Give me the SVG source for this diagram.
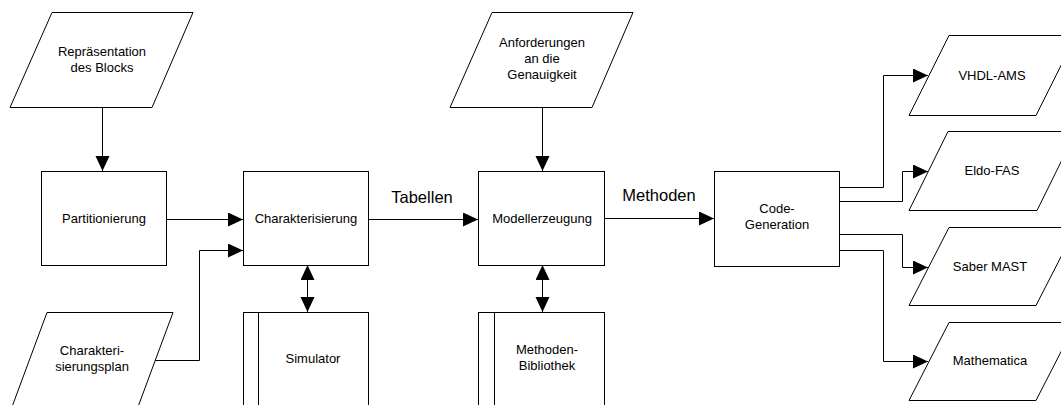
<svg xmlns="http://www.w3.org/2000/svg" width="1061" height="405" viewBox="0 0 1061 405">
  <style>
    .shape { fill: #ffffff; stroke: #000000; stroke-width: 1; }
    .wire { fill: none; stroke: #000000; stroke-width: 1; }
    .txt { font-family: "Liberation Sans", Arial, sans-serif; font-size: 13px; fill: #000000; text-anchor: middle; }
    .lbl { font-family: "Liberation Sans", Arial, sans-serif; font-size: 16.5px; fill: #000000; text-anchor: middle; }
  </style>
  <defs>
    <marker id="arrow" markerUnits="userSpaceOnUse" markerWidth="16" markerHeight="15" refX="15" refY="7" orient="auto-start-reverse">
      <path d="M0,0 L15,7 L0,14 z" fill="#000000"/>
    </marker>
  </defs>
  <rect width="1061" height="405" fill="#ffffff"/>

  <!-- connectors -->
  <g id="connectors">
    <path class="wire" d="M102.5,107 V171" marker-end="url(#arrow)"/>
    <path class="wire" d="M166,219.5 H243" marker-end="url(#arrow)"/>
    <path class="wire" d="M155,360.5 H199.5 V250.5 H243" marker-end="url(#arrow)"/>
    <path class="wire" d="M368,219.5 H478" marker-end="url(#arrow)"/>
    <path class="wire" d="M542.5,107 V171" marker-end="url(#arrow)"/>
    <path class="wire" d="M604,218.5 H714" marker-end="url(#arrow)"/>
    <path class="wire" d="M307.5,265 V312" marker-start="url(#arrow)" marker-end="url(#arrow)"/>
    <path class="wire" d="M542.5,265 V312" marker-start="url(#arrow)" marker-end="url(#arrow)"/>
    <path class="wire" d="M839,187.5 H883.5 V75.5 H928" marker-end="url(#arrow)"/>
    <path class="wire" d="M839,201.5 H902.5 V171.5 H928" marker-end="url(#arrow)"/>
    <path class="wire" d="M839,234.5 H902.5 V267.5 H928" marker-end="url(#arrow)"/>
    <path class="wire" d="M839,250.5 H883.5 V361.5 H928" marker-end="url(#arrow)"/>
  </g>

  <g id="repraesentation">
    <polygon class="shape" points="52,12.5 193,12.5 152,107.5 10,107.5"/>
    <text class="txt" x="102" y="56">Repräsentation</text>
    <text class="txt" x="102" y="72">des Blocks</text>
  </g>

  <g id="partitionierung">
    <rect class="shape" x="41.5" y="171.5" width="125" height="94"/>
    <text class="txt" x="104" y="223">Partitionierung</text>
  </g>

  <g id="charakterisierungsplan">
    <polyline class="shape" points="9,415 47,312.5 173,312.5 135,415"/>
    <text class="txt" x="92" y="355">Charakteri-</text>
    <text class="txt" x="92" y="371">sierungsplan</text>
  </g>

  <g id="charakterisierung">
    <rect class="shape" x="243.5" y="171.5" width="125" height="94"/>
    <text class="txt" x="306" y="223">Charakterisierung</text>
  </g>

  <g id="simulator">
    <rect class="shape" x="243.5" y="312.5" width="125" height="110"/>
    <line class="wire" x1="258.5" y1="312.5" x2="258.5" y2="410"/>
    <text class="txt" x="313" y="363">Simulator</text>
  </g>

  <g id="label-tabellen">
    <text class="lbl" x="422" y="203">Tabellen</text>
  </g>

  <g id="anforderungen">
    <polygon class="shape" points="492,12.5 633,12.5 592,107.5 450,107.5"/>
    <text class="txt" x="542" y="47">Anforderungen</text>
    <text class="txt" x="542" y="63">an die</text>
    <text class="txt" x="542" y="79">Genauigkeit</text>
  </g>

  <g id="modellerzeugung">
    <rect class="shape" x="478.5" y="171.5" width="126" height="94"/>
    <text class="txt" x="542" y="223">Modellerzeugung</text>
  </g>

  <g id="methoden-bibliothek">
    <rect class="shape" x="478.5" y="312.5" width="126" height="110"/>
    <line class="wire" x1="494.5" y1="312.5" x2="494.5" y2="410"/>
    <text class="txt" x="547" y="354">Methoden-</text>
    <text class="txt" x="547" y="370">Bibliothek</text>
  </g>

  <g id="label-methoden">
    <text class="lbl" x="659" y="201">Methoden</text>
  </g>

  <g id="code-generation">
    <rect class="shape" x="714.5" y="171.5" width="125" height="95"/>
    <text class="txt" x="777" y="213">Code-</text>
    <text class="txt" x="777" y="229">Generation</text>
  </g>

  <g id="vhdl-ams">
    <polygon class="shape" points="949,35.5 1076,35.5 1036,115.5 909,115.5"/>
    <text class="txt" x="992" y="80">VHDL-AMS</text>
  </g>

  <g id="eldo-fas">
    <polygon class="shape" points="948,131.5 1076,131.5 1037,210.5 909,210.5"/>
    <text class="txt" x="992" y="175">Eldo-FAS</text>
  </g>

  <g id="saber-mast">
    <polygon class="shape" points="949,227.5 1076,227.5 1036,305.5 909,305.5"/>
    <text class="txt" x="990" y="271">Saber MAST</text>
  </g>

  <g id="mathematica">
    <polygon class="shape" points="949,322.5 1076,322.5 1036,400.5 909,400.5"/>
    <text class="txt" x="990" y="365">Mathematica</text>
  </g>
</svg>
